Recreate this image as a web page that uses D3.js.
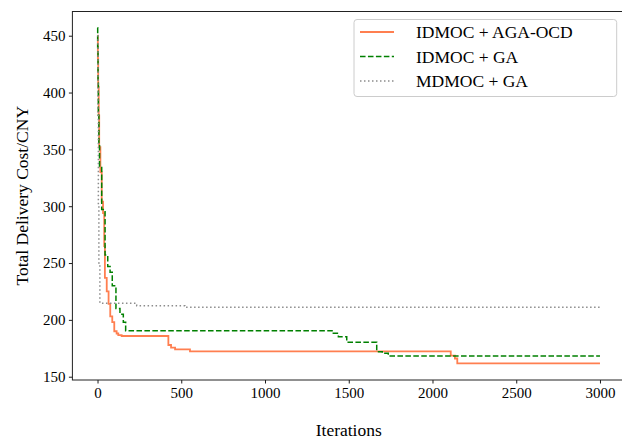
<!DOCTYPE html>
<html>
<head>
<meta charset="utf-8">
<script src="https://cdn.jsdelivr.net/npm/d3@7"></script>
<style>
  html, body { margin: 0; padding: 0; background: #fff; }
  svg { display: block; }
  text { font-family: "Liberation Serif", "Times New Roman", serif; fill: #000; }
</style>
</head>
<body>
<svg id="chart" width="622" height="440"></svg>
<script>
// ---- data ----
const seriesNames = ["IDMOC + AGA-OCD", "IDMOC + GA", "MDMOC + GA"];

const agaIter = [0, 2, 4, 7, 10, 17, 25, 33, 40, 44, 55, 66, 76, 88, 100, 114, 124, 144, 423, 439, 463, 552, 2109, 2134, 2148, 3000];
const agaCost = [450, 430, 405, 380, 352, 330, 304, 294, 265, 237, 225, 214, 203, 198, 190, 188, 186.5, 185.8, 177.9, 175.5, 174, 172.2, 168.5, 166, 161.8, 161.8];

const gaIter = [0, 1, 3, 5, 8, 12, 25, 45, 61, 75, 88, 110, 134, 154, 168, 1408, 1438, 1488, 1667, 1700, 1736, 3000];
const gaCost = [457, 440, 410, 380, 355, 335, 297, 257, 247, 242, 230, 210, 205, 198, 190.5, 188.2, 185.2, 180.3, 172, 170.6, 168.3, 168.3];

const mdIter = [0, 3, 5, 8, 14, 234, 522, 3000];
const mdCost = [450, 380, 300, 250, 214.6, 212.5, 211.2, 211.2];

const xTicks = [0, 500, 1000, 1500, 2000, 2500, 3000];
const yTicks = [150, 200, 250, 300, 350, 400, 450];

const xLabel = "Iterations";
const yLabel = "Total Delivery Cost/CNY";

// ---- layout ----
const svg = d3.select("#chart");
const mLeft = 72.4, mRight = 625.1, mTop = 11.5, mBottom = 380;

const x = d3.scaleLinear().domain([-150, 3150]).range([mLeft, mRight]);
const y = d3.scaleLinear().domain([147.1, 471.3]).range([mBottom, mTop]);

const series = [
  { name: seriesNames[0], it: agaIter, v: agaCost, color: "#ff7f50", width: 1.8, dash: null },
  { name: seriesNames[1], it: gaIter, v: gaCost, color: "#008000", width: 1.5, dash: "5.55,2.4" },
  { name: seriesNames[2], it: mdIter, v: mdCost, color: "#8c8c8c", width: 1.5, dash: "1.5,2.5" }
];

const line = d3.line().x(d => x(d[0])).y(d => y(d[1])).curve(d3.curveStepAfter);

const plot = svg.append("g");
series.forEach(s => {
  const pts = s.it.map((t, i) => [t, s.v[i]]);
  plot.append("path")
    .datum(pts)
    .attr("d", line)
    .attr("fill", "none")
    .attr("stroke", s.color)
    .attr("stroke-width", s.width)
    .attr("stroke-dasharray", s.dash)
    .attr("stroke-linejoin", "miter");
});

// axes
const xAxis = d3.axisBottom(x).tickValues(xTicks).tickSize(3.5).tickPadding(3.5).tickFormat(d3.format("d"));
const yAxis = d3.axisLeft(y).tickValues(yTicks).tickSize(3.5).tickPadding(3.5).tickFormat(d3.format("d"));

const gx = svg.append("g").attr("transform", `translate(0,${mBottom})`).call(xAxis);
const gy = svg.append("g").attr("transform", `translate(${mLeft},0)`).call(yAxis);
[gx, gy].forEach(g => {
  g.select(".domain").remove();
  g.selectAll(".tick line").attr("stroke", "#000").attr("stroke-width", 0.9);
  g.selectAll(".tick text").style("font-family", "Liberation Serif, serif").style("font-size", "15px").attr("fill", "#000");
});

// frame
svg.append("rect")
  .attr("x", mLeft).attr("y", mTop)
  .attr("width", mRight - mLeft).attr("height", mBottom - mTop)
  .attr("fill", "none").attr("stroke", "#222").attr("stroke-width", 1);

// axis labels
svg.append("text")
  .attr("x", (mLeft + mRight) / 2).attr("y", 436)
  .attr("text-anchor", "middle").style("font-size", "17.5px")
  .text(xLabel);
svg.append("text")
  .attr("transform", `translate(28,${(mTop + mBottom) / 2}) rotate(-90)`)
  .attr("text-anchor", "middle").style("font-size", "17.5px")
  .text(yLabel);

// legend
const lg = svg.append("g");
lg.append("rect")
  .attr("x", 354).attr("y", 19.5).attr("width", 262.7).attr("height", 77)
  .attr("rx", 3).attr("fill", "#fff").attr("fill-opacity", 0.8)
  .attr("stroke", "#cccccc").attr("stroke-width", 1);
const rowY = [32, 56.5, 81];
series.forEach((s, i) => {
  lg.append("line")
    .attr("x1", 360).attr("x2", 394)
    .attr("y1", rowY[i]).attr("y2", rowY[i])
    .attr("stroke", s.color).attr("stroke-width", s.width)
    .attr("stroke-dasharray", s.dash);
  lg.append("text")
    .attr("x", 416).attr("y", rowY[i]).attr("dy", "0.35em")
    .style("font-size", "17.5px")
    .text(s.name);
});
</script>
</body>
</html>
